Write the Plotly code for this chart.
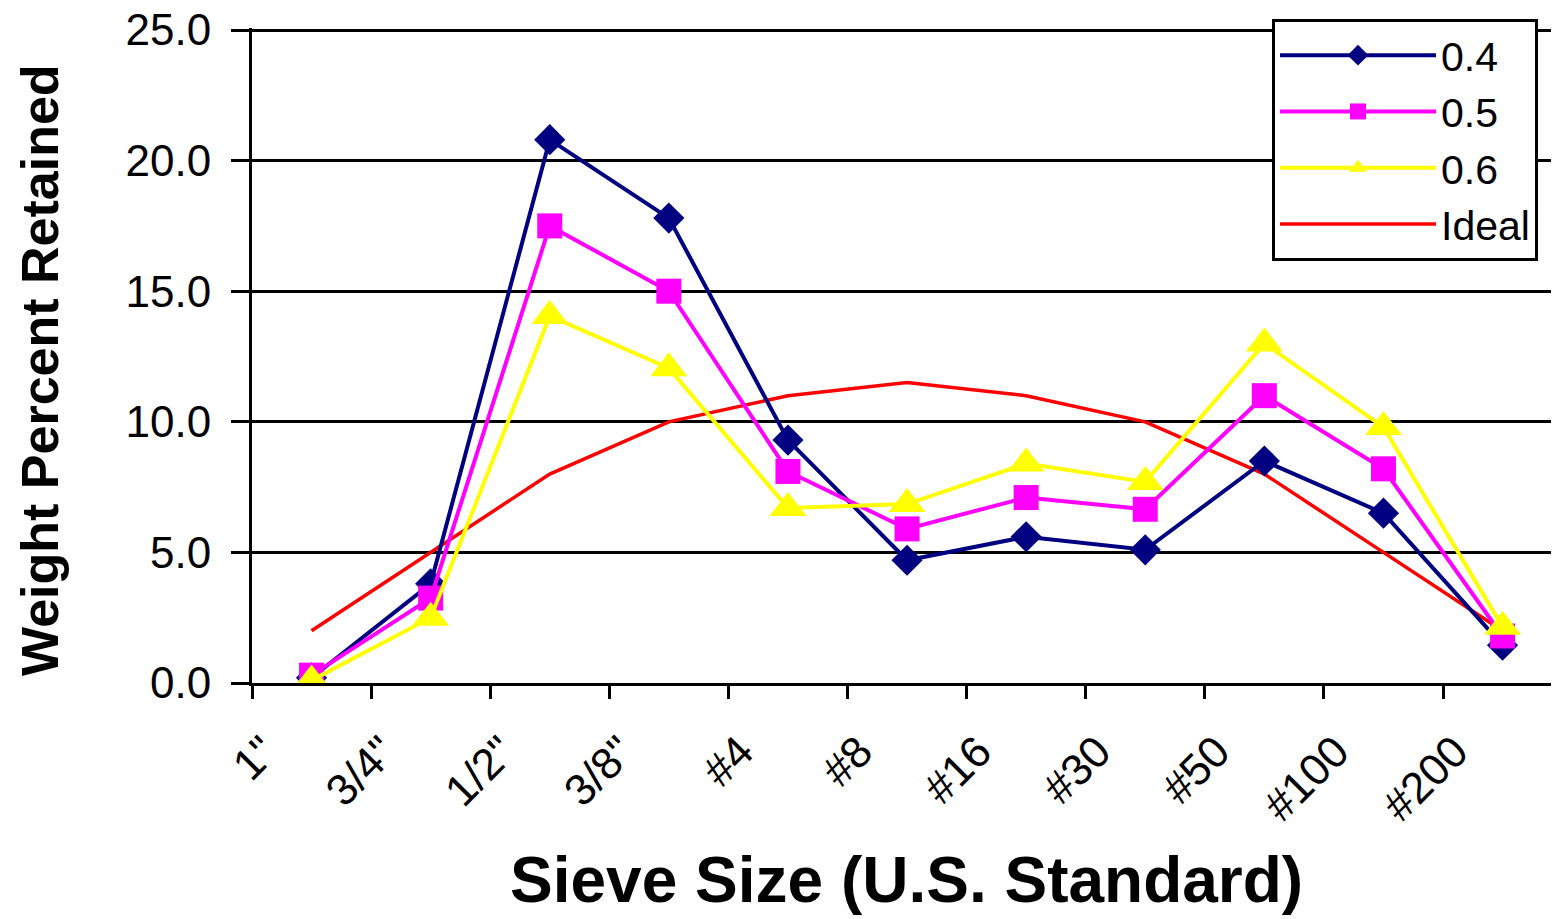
import plotly.graph_objects as go

sieve_labels = ['1"', '3/4"', '1/2"', '3/8"', "#4", "#8", "#16", "#30", "#50", "#100", "#200"]
x_pos = [0.5, 1.5, 2.5, 3.5, 4.5, 5.5, 6.5, 7.5, 8.5, 9.5, 10.5]
tick_pos = [0, 1, 2, 3, 4, 5, 6, 7, 8, 9, 10]
y_ticks = [0, 5, 10, 15, 20, 25]

s04 = [0.2, 3.8, 20.8, 17.8, 9.3, 4.7, 5.6, 5.1, 8.5, 6.5, 1.45]
s05 = [0.3, 3.25, 17.5, 15.0, 8.1, 5.9, 7.1, 6.65, 11.0, 8.2, 1.8]
s06 = [0.1, 2.5, 14.05, 12.05, 6.7, 6.85, 8.4, 7.7, 13.0, 9.8, 2.15]
ideal = [2.0, 5.0, 8.0, 10.0, 11.0, 11.5, 11.0, 10.0, 8.0, 5.0, 2.0]

FONT = "Liberation Sans, Arial, sans-serif"

fig = go.Figure()
fig.add_trace(go.Scatter(x=x_pos, y=ideal, name="Ideal", mode="lines",
                         line=dict(color="#FF0000", width=3.5), legendrank=4))
fig.add_trace(go.Scatter(x=x_pos, y=s04, name="0.4", mode="lines+markers",
                         line=dict(color="#000080", width=4),
                         marker=dict(symbol="diamond", size=24, color="#000080", line=dict(width=0)),
                         legendrank=1))
fig.add_trace(go.Scatter(x=x_pos, y=s05, name="0.5", mode="lines+markers",
                         line=dict(color="#FF00FF", width=4),
                         marker=dict(symbol="square", size=25, color="#FF00FF", line=dict(width=0)),
                         legendrank=2))
fig.add_trace(go.Scatter(x=x_pos, y=s06, name="0.6", mode="lines+markers",
                         line=dict(color="#FFFF00", width=4),
                         marker=dict(symbol="triangle-up", size=32, color="#FFFF00", line=dict(width=0)),
                         legendrank=3))

# The page body has an 8px default margin; target pixel positions are compensated.
OFF = 8
VW, VH = 1559, 919
W, H = VW - OFF, VH - OFF
L = 252 - OFF
T = 28 - OFF
B = VH - 683
R = 0
pw = W - L - R
ph = H - T - B
y_top = 25 * ph / (683 - 30)


def px_x(x):
    return (x - OFF - L) / pw


def px_y(y):
    return (H - B - (y - OFF)) / ph


fig.update_layout(
    width=W, height=H,
    margin=dict(l=L, r=R, t=T, b=B, pad=0, autoexpand=False),
    paper_bgcolor="white", plot_bgcolor="white",
    font=dict(family=FONT, size=43, color="black"),
    showlegend=True,
    legend=dict(x=px_x(1272), y=px_y(19), xanchor="left", yanchor="top",
                bordercolor="black", borderwidth=3, bgcolor="white",
                font=dict(family=FONT, size=41, color="black"),
                tracegroupgap=0, itemwidth=156),
    xaxis=dict(range=[0, (1559 - 252) / 119.1], tickmode="array", tickvals=tick_pos,
               ticktext=sieve_labels,
               tickangle=-45, showgrid=False, zeroline=False, automargin=False,
               showline=True, linecolor="black", linewidth=3,
               ticks="outside", ticklen=13, tickwidth=3, tickcolor="black",
               ticklabelstandoff=9, ticklabelshift=12, ticklabeloverflow="allow",
               tickfont=dict(family=FONT, size=44, color="black")),
    yaxis=dict(range=[0, y_top], tickmode="array", tickvals=y_ticks,
               ticktext=[f"{v:.1f}" for v in y_ticks], automargin=False,
               showgrid=True, gridcolor="black", gridwidth=3, zeroline=False,
               showline=True, linecolor="black", linewidth=3,
               ticks="outside", ticklen=18, tickwidth=3, tickcolor="black",
               ticklabelstandoff=11, ticklabeloverflow="allow",
               tickfont=dict(family=FONT, size=44, color="black")),
    annotations=[
        dict(text="<b>Weight Percent Retained</b>", textangle=-90, showarrow=False,
             xref="paper", yref="paper", x=px_x(40), y=px_y(370),
             xanchor="center", yanchor="middle", font=dict(family=FONT, size=52, color="black")),
        dict(text="<b>Sieve Size (U.S. Standard)</b>", showarrow=False,
             xref="paper", yref="paper", x=px_x(906), y=px_y(880),
             xanchor="center", yanchor="middle", font=dict(family=FONT, size=64, color="black")),
    ],
)

fig.write_html("out.html")
